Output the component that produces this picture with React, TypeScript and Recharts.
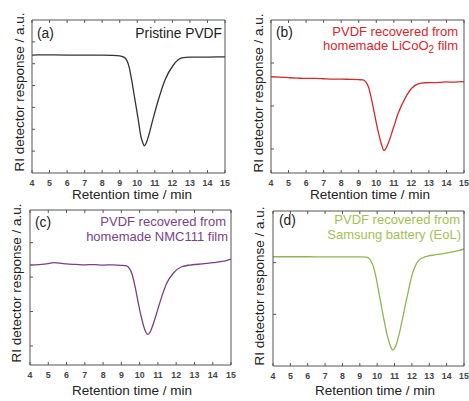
import React from "react";
import { LineChart, Line, XAxis, YAxis } from "recharts";

// Retention time (min) and RI detector response (% of panel height)
const timeA = [4, 5, 6, 7, 8, 8.6, 9.0, 9.2, 9.39, 9.55, 9.68, 9.87, 10.06, 10.21, 10.3, 10.4, 10.5, 10.63, 10.88, 11.2, 11.58, 12.06, 12.53, 13, 14, 15];
const respA = [77.1, 77.2, 77.1, 77.0, 77.0, 76.9, 76.6, 75.9, 73.9, 68.6, 60.8, 47.7, 34.6, 23.7, 20.3, 17.8, 19.3, 23.7, 34.6, 47.7, 60.8, 70.6, 75.2, 75.8, 75.8, 75.9];

const timeB = [4, 4.5, 5, 5.5, 6, 6.5, 7, 7.5, 8, 8.5, 9, 9.26, 9.4, 9.55, 9.74, 9.93, 10.11, 10.31, 10.44, 10.55, 10.68, 10.97, 11.25, 11.64, 12.02, 12.39, 12.77, 13.2, 13.63, 14, 14.4, 14.87, 15];
const respB = [62.9, 62.6, 62.3, 62.0, 61.8, 61.9, 61.6, 61.3, 61.4, 61.2, 61.0, 60.8, 59.5, 56.4, 47.7, 36.8, 27.0, 18.3, 14.6, 16.0, 19.4, 29.2, 39.0, 48.8, 55.4, 58.2, 59.0, 59.1, 59.2, 59.5, 59.4, 59.7, 59.6];

const timeC = [4, 4.5, 5, 5.3, 5.7, 6, 6.5, 7, 7.5, 8, 8.5, 9, 9.29, 9.45, 9.57, 9.75, 9.93, 10.11, 10.29, 10.44, 10.55, 10.66, 10.93, 11.21, 11.48, 11.84, 12.3, 12.76, 13.2, 13.67, 14.0, 14.4, 14.7, 15];
const respC = [64.5, 64.8, 65.4, 66.0, 65.6, 65.2, 64.9, 64.6, 64.8, 64.5, 64.6, 64.3, 63.9, 62.0, 59.2, 50.5, 39.8, 30.1, 22.6, 19.8, 20.8, 23.7, 33.4, 44.1, 52.7, 59.2, 63.4, 64.5, 65.0, 65.6, 66.0, 66.7, 67.2, 68.3];

const timeD = [4, 5, 6, 7, 8, 9, 9.4, 9.6, 9.78, 9.93, 10.07, 10.2, 10.32, 10.45, 10.55, 10.65, 10.74, 10.82, 10.89, 10.97, 11.09, 11.2, 11.32, 11.46, 11.6, 11.75, 11.89, 12.03, 12.18, 12.33, 12.47, 12.7, 12.95, 13.27, 13.75, 14.24, 14.6, 15];
const respD = [70.5, 70.5, 70.5, 70.4, 70.4, 70.4, 70.2, 68.5, 64.1, 57.5, 49.0, 41.3, 34.0, 26.5, 21.1, 16.8, 13.5, 11.4, 10.3, 10.9, 13.5, 17.8, 23.2, 30.6, 38.3, 46.0, 53.4, 59.6, 64.1, 67.3, 68.8, 70.2, 71.0, 71.6, 72.4, 73.4, 74.2, 75.5];

const xTicks = [4, 5, 6, 7, 8, 9, 10, 11, 12, 13, 14, 15];
const yTicksA = [14.29, 28.57, 42.86, 57.14, 71.43, 85.71];
const yTicksB = [15.7, 43.8, 71.9];
const yTicksC = [12.3, 34.5, 56.7, 78.9];
const yTicksD = [33.3, 66.7];

const xTitle = "Retention time / min";
const yTitle = "RI detector response / a.u.";

const FONT = "'Liberation Sans', Arial, sans-serif";
const AX = "#555";

type Box = { left: number; top: number; right: number; bottom: number };

const NoLabel = () => <g />;

function Panel({ box, times, resp, yTicks, color }: { box: Box; times: number[]; resp: number[]; yTicks: number[]; color: string }) {
  const data = times.map((t, i) => ({ t, r: resp[i] }));
  const padL = 10, padR = 10, padT = 10, padB = 20;
  const w = box.right - box.left + padL + padR;
  const h = box.bottom - box.top + padT + padB;
  return (
    <div style={{ position: "absolute", left: box.left - padL, top: box.top - padT, width: w, height: h }}>
      <LineChart width={w} height={h} data={data} margin={{ top: 0, right: 0, bottom: 0, left: 0 }}>
        <XAxis
          xAxisId="b"
          dataKey="t"
          type="number"
          domain={[4, 15]}
          ticks={xTicks}
          allowDataOverflow
          height={padB}
          tickSize={-3}
          tickMargin={9.5}
          stroke={AX}
          tickLine={{ stroke: AX }}
          tick={{ fontSize: 8.8, fontWeight: 700, fill: "#444", fontFamily: FONT }}
          interval={0}
        />
        <XAxis
          xAxisId="t"
          orientation="top"
          dataKey="t"
          type="number"
          domain={[4, 15]}
          ticks={xTicks}
          allowDataOverflow
          height={padT}
          tickSize={-3}
          stroke={AX}
          tickLine={{ stroke: AX }}
          tick={NoLabel}
          interval={0}
        />
        <YAxis
          yAxisId="l"
          type="number"
          domain={[0, 100]}
          ticks={yTicks}
          width={padL}
          tickSize={-3}
          stroke={AX}
          tickLine={{ stroke: AX }}
          tick={NoLabel}
          interval={0}
        />
        <YAxis
          yAxisId="r"
          orientation="right"
          type="number"
          domain={[0, 100]}
          ticks={yTicks}
          width={padR}
          tickSize={-3}
          stroke={AX}
          tickLine={{ stroke: AX }}
          tick={NoLabel}
          interval={0}
        />
        <Line
          xAxisId="b"
          yAxisId="l"
          dataKey="r"
          type="monotone"
          stroke={color}
          strokeWidth={1.3}
          dot={false}
          isAnimationActive={false}
        />
      </LineChart>
    </div>
  );
}

const boxA = { left: 32, top: 20, right: 225, bottom: 173 };
const boxB = { left: 271, top: 20, right: 464, bottom: 173 };
const boxC = { left: 30, top: 210, right: 231, bottom: 365 };
const boxD = { left: 273, top: 211, right: 464, bottom: 366 };

const colA = "#333333";
const colB = "#d42a2a";
const colC = "#7a3d86";
const colD = "#93b452";
const txtB = "#d9262b";
const txtC = "#7b3f8c";
const txtD = "#a3c152";

export default function App() {
  const t = { fontFamily: FONT } as const;
  return (
    <div style={{ position: "absolute", left: 0, top: 0, width: 469, height: 401, background: "#fff", overflow: "hidden" }}>
      <Panel box={boxA} times={timeA} resp={respA} yTicks={yTicksA} color={colA} />
      <Panel box={boxB} times={timeB} resp={respB} yTicks={yTicksB} color={colB} />
      <Panel box={boxC} times={timeC} resp={respC} yTicks={yTicksC} color={colC} />
      <Panel box={boxD} times={timeD} resp={respD} yTicks={yTicksD} color={colD} />
      <svg width={469} height={401} style={{ position: "absolute", left: 0, top: 0, pointerEvents: "none" }}>
        <g style={t} fontSize={13.5} fill="#222">
          <text x={132} y={199} textAnchor="middle">{xTitle}</text>
          <text x={370} y={199} textAnchor="middle">{xTitle}</text>
          <text x={132} y={395} textAnchor="middle">{xTitle}</text>
          <text x={375} y={395} textAnchor="middle">{xTitle}</text>
          <text x={23.5} y={92} textAnchor="middle" transform="rotate(-90 23.5 92)">{yTitle}</text>
          <text x={263} y={93} textAnchor="middle" transform="rotate(-90 263 93)">{yTitle}</text>
          <text x={21} y={283} textAnchor="middle" transform="rotate(-90 21 283)">{yTitle}</text>
          <text x={263.5} y={286} textAnchor="middle" transform="rotate(-90 263.5 286)">{yTitle}</text>
        </g>
        <g style={t} fontSize={13.8}>
          <text x={37} y={38} fill="#222">(a)</text>
          <text x={222} y={38} fill="#222" textAnchor="end">Pristine PVDF</text>
          <text x={276} y={36.5} fill="#222">(b)</text>
          <text x={35} y={227} fill="#222">(c)</text>
          <text x={279} y={225} fill="#222">(d)</text>
        </g>
        <g style={t} fontSize={13}>
          <text x={458} y={35.5} fill={txtB} textAnchor="end">PVDF recovered from</text>
          <text x={458} y={50.2} fill={txtB} textAnchor="end">
            homemade LiCoO<tspan dy={2.5} fontSize={10}>2</tspan><tspan dy={-2.5}> film</tspan>
          </text>

          <text x={226} y={226} fill={txtC} textAnchor="end">PVDF recovered from</text>
          <text x={228} y={240.7} fill={txtC} textAnchor="end">homemade NMC111 film</text>

          <text x={460} y={224} fill={txtD} textAnchor="end">PVDF recovered from</text>
          <text x={461} y={238.7} fill={txtD} textAnchor="end">Samsung battery (EoL)</text>
        </g>
      </svg>
    </div>
  );
}
